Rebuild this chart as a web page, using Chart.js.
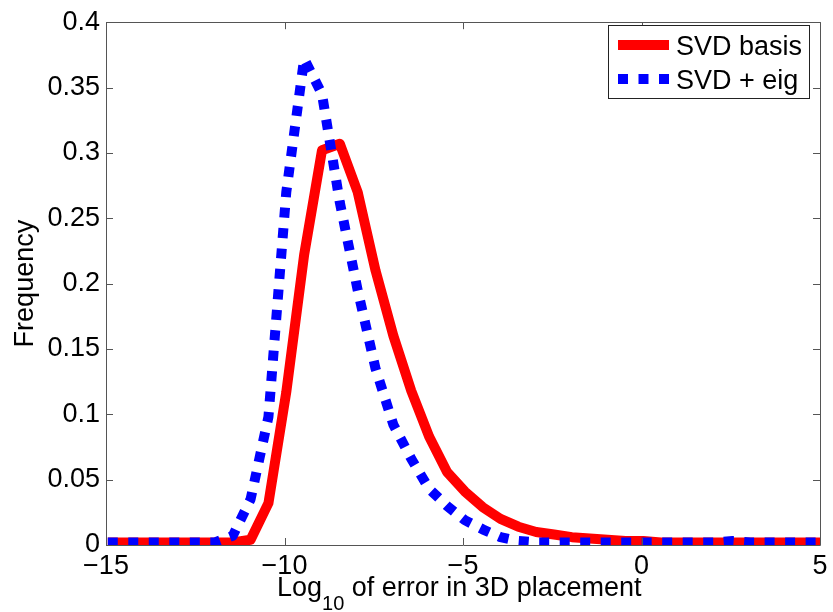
<!DOCTYPE html>
<html>
<head>
<meta charset="utf-8">
<title>Log10 error histogram</title>
<script src="https://cdn.jsdelivr.net/npm/chart.js@4.4.1/dist/chart.umd.min.js"></script>
<style>
  html, body { margin: 0; padding: 0; background: #fff; }
  #chart { display: block; }
</style>
</head>
<body>
<canvas id="chart" width="833" height="612"></canvas>
<script>
// bin centres (log10 of error)
const binCenters = [-14.95, -14.45, -13.95, -13.45, -12.95, -12.45, -11.95, -11.45, -10.95, -10.45,
  -9.95, -9.45, -8.95, -8.45, -7.95, -7.45, -6.95, -6.45, -5.95, -5.45,
  -4.95, -4.45, -3.95, -3.45, -2.95, -2.45, -1.95, -1.45, -0.95, -0.45,
  0.05, 0.55, 1.05, 1.55, 2.05, 2.55, 3.05, 3.55, 4.05, 4.55, 5.05];

const svdBasis = [0.002, 0.002, 0.002, 0.002, 0.002, 0.002, 0.002, 0.002, 0.004, 0.032,
  0.117, 0.222, 0.302, 0.307, 0.270, 0.210, 0.160, 0.118, 0.083, 0.056,
  0.041, 0.029, 0.020, 0.014, 0.010, 0.008, 0.006, 0.005, 0.004, 0.003,
  0.003, 0.002, 0.002, 0.002, 0.002, 0.002, 0.002, 0.002, 0.002, 0.002, 0.002];

const svdEig = [0.002, 0.002, 0.002, 0.002, 0.002, 0.002, 0.002, 0.007, 0.035, 0.098,
  0.270, 0.372, 0.345, 0.262, 0.195, 0.135, 0.092, 0.066, 0.043, 0.030,
  0.019, 0.012, 0.006, 0.003, 0.002, 0.002, 0.002, 0.002, 0.002, 0.002,
  0.002, 0.002, 0.002, 0.002, 0.002, 0.003, 0.002, 0.002, 0.002, 0.002, 0.002];

const seriesLabels = ['SVD basis', 'SVD + eig'];
const xTicks = [-15, -10, -5, 0, 5];
const xTickLabels = ['\u221215', '\u221210', '\u22125', '0', '5'];
const yTickLabels = ['0', '0.05', '0.1', '0.15', '0.2', '0.25', '0.3', '0.35', '0.4'];
const xTitleParts = ['Log', '10', ' of error in 3D placement'];
const yTitle = 'Frequency';

const FONT = '"Liberation Sans", Arial, Helvetica, sans-serif';
const AXIS_COLOR = '#555';

function toPoints(values) {
  return values.map((v, i) => ({ x: binCenters[i], y: v }));
}

// box around the axes with inward ticks, like matlab
const axesBox = {
  id: 'axesBox',
  afterDatasetsDraw(chart) {
    const { ctx, chartArea: a, scales } = chart;
    const len = 7;
    ctx.save();
    ctx.strokeStyle = AXIS_COLOR;
    ctx.lineWidth = 1;
    ctx.beginPath();
    ctx.rect(Math.round(a.left) + 0.5, Math.round(a.top) + 0.5,
      Math.round(a.right - a.left), Math.round(a.bottom - a.top));
    xTicks.forEach(t => {
      const px = Math.round(scales.x.getPixelForValue(t)) + 0.5;
      ctx.moveTo(px, a.bottom); ctx.lineTo(px, a.bottom - len);
      ctx.moveTo(px, a.top); ctx.lineTo(px, a.top + len);
    });
    yTickLabels.forEach((lbl, i) => {
      const py = Math.round(scales.y.getPixelForValue(i * 0.05)) + 0.5;
      ctx.moveTo(a.left, py); ctx.lineTo(a.left + len, py);
      ctx.moveTo(a.right, py); ctx.lineTo(a.right - len, py);
    });
    ctx.stroke();
    ctx.restore();
  }
};

// legend box in the top right corner
const boxLegend = {
  id: 'boxLegend',
  afterDraw(chart) {
    const { ctx } = chart;
    const x0 = 608, y0 = 25, w = 201, h = 73;
    ctx.save();
    ctx.fillStyle = '#fff';
    ctx.fillRect(x0, y0, w, h);
    ctx.strokeStyle = '#222';
    ctx.lineWidth = 1;
    ctx.strokeRect(x0 + 0.5, y0 + 0.5, w, h);
    const rows = [45, 79];
    chart.data.datasets.forEach((ds, i) => {
      const y = rows[i];
      ctx.beginPath();
      ctx.strokeStyle = ds.borderColor;
      ctx.lineWidth = ds.borderWidth;
      ctx.lineCap = 'butt';
      ctx.setLineDash(ds.borderDash || []);
      ctx.moveTo(618, y);
      ctx.lineTo(669, y);
      ctx.stroke();
      ctx.setLineDash([]);
      ctx.fillStyle = '#000';
      ctx.font = '27px ' + FONT;
      ctx.textBaseline = 'alphabetic';
      ctx.fillText(ds.label, 676, y + 10);
    });
    ctx.restore();
  }
};

// x title with subscript
const xTitle = {
  id: 'xTitle',
  afterDraw(chart) {
    const { ctx } = chart;
    let x = 277;
    const base = 596;
    ctx.save();
    ctx.fillStyle = '#000';
    ctx.textBaseline = 'alphabetic';
    ctx.font = '27px ' + FONT;
    ctx.fillText(xTitleParts[0], x, base);
    x += ctx.measureText(xTitleParts[0]).width;
    ctx.font = '20px ' + FONT;
    ctx.fillText(xTitleParts[1], x, base + 14);
    x += ctx.measureText(xTitleParts[1]).width;
    ctx.font = '27px ' + FONT;
    ctx.fillText(xTitleParts[2], x, base);
    ctx.restore();
  }
};

new Chart(document.getElementById('chart').getContext('2d'), {
  type: 'line',
  data: {
    datasets: [{
      label: seriesLabels[0],
      data: toPoints(svdBasis),
      borderColor: '#ff0000',
      borderWidth: 10,
      borderJoinStyle: 'round',
      pointRadius: 0,
      tension: 0,
      clip: 0,
      order: 2
    }, {
      label: seriesLabels[1],
      data: toPoints(svdEig),
      borderColor: '#0000ff',
      borderWidth: 10,
      borderDash: [10, 10.5],
      borderCapStyle: 'butt',
      borderJoinStyle: 'round',
      pointRadius: 0,
      tension: 0,
      clip: 0,
      order: 1
    }]
  },
  options: {
    responsive: false,
    animation: false,
    layout: { padding: { top: 15, right: 13, left: 0, bottom: 0 } },
    plugins: {
      legend: { display: false },
      tooltip: { enabled: false }
    },
    scales: {
      x: {
        type: 'linear',
        min: -15,
        max: 5,
        grid: { display: false, drawTicks: false },
        border: { display: false },
        afterBuildTicks: scale => { scale.ticks = xTicks.map(v => ({ value: v })); },
        afterFit: scale => { scale.height = 67; },
        ticks: {
          autoSkip: false,
          maxRotation: 0,
          padding: 5,
          color: '#000',
          font: { family: FONT, size: 27 },
          callback: (v, i) => xTickLabels[i]
        }
      },
      y: {
        min: 0,
        max: 0.4,
        grid: { display: false, drawTicks: false },
        border: { display: false },
        afterBuildTicks: scale => { scale.ticks = yTickLabels.map((l, i) => ({ value: i * 0.05 })); },
        afterFit: scale => { scale.width = 106; },
        title: {
          display: true,
          text: yTitle,
          color: '#000',
          padding: { top: 9, bottom: 0 },
          font: { family: FONT, size: 27 }
        },
        ticks: {
          autoSkip: false,
          padding: 6,
          color: '#000',
          font: { family: FONT, size: 27 },
          callback: (v, i) => yTickLabels[i]
        }
      }
    }
  },
  plugins: [axesBox, boxLegend, xTitle]
});
</script>
</body>
</html>
